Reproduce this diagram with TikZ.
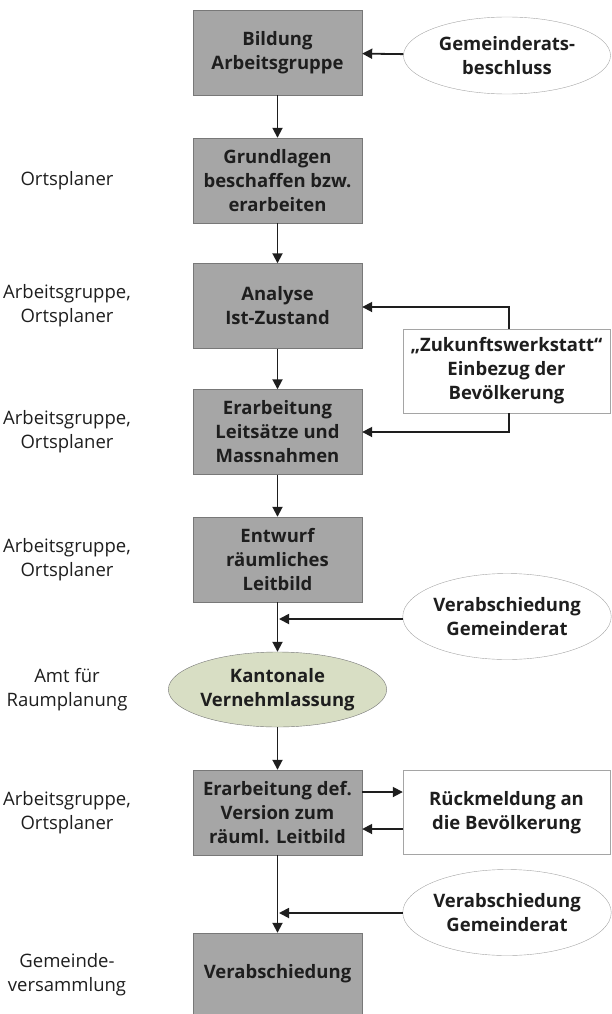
\documentclass[tikz,border=0pt]{standalone}
\usepackage{fontspec}
\setmainfont{Open Sans}
\usetikzlibrary{arrows.meta,shapes.geometric}
\definecolor{boxgray}{RGB}{166,166,166}
\definecolor{boxedge}{RGB}{120,120,120}
\definecolor{lightedge}{RGB}{165,165,165}
\definecolor{kantgreen}{RGB}{216,222,196}
\definecolor{ink}{RGB}{30,30,30}

\begin{document}
\begin{tikzpicture}
    [ x=1pt, y=-1pt, text=ink,
      txt/.style={font=\fontsize{18.5}{24}\selectfont, align=center, inner sep=0pt},
      stepbox/.style={txt, font=\fontsize{18.5}{24}\selectfont\bfseries, draw=boxedge, fill=boxgray,
                      minimum width=169pt, minimum height=85pt},
      extbox/.style={txt, font=\fontsize{18.5}{24}\selectfont\bfseries, draw=lightedge, fill=white,
                     minimum width=207pt, minimum height=84pt},
      extell/.style={txt, font=\fontsize{18.5}{24}\selectfont\bfseries, ellipse, draw=lightedge, fill=white,
                     minimum width=207pt, minimum height=86pt},
      kantell/.style={extell, draw=boxedge, fill=kantgreen, minimum width=169pt, minimum height=75pt},
      flow/.style={draw=ink, line width=1.8pt, -{Triangle[length=10pt,width=10pt]}},
    ]
    \useasboundingbox (0,0) rectangle (611,1014);

    % main column
    \node[stepbox] (bild)    at (277.5, 52.5)  {Bildung\\Arbeitsgruppe};
    \node[stepbox] (grund)   at (277.5, 180.5) {Grundlagen\\beschaffen bzw.\\erarbeiten};
    \node[stepbox] (analyse) at (277.5, 306)   {Analyse\\Ist-Zustand};
    \node[stepbox] (leits)   at (277.5, 432)   {Erarbeitung\\Leitsätze und\\Massnahmen};
    \node[stepbox] (entwurf) at (277.5, 559.5) {Entwurf\\räumliches\\Leitbild};
    \node[kantell] (kanton)  at (277.5, 689.5) {Kantonale\\Vernehmlassung};
    \node[stepbox] (defver)  at (277.5, 812.5) {Erarbeitung def.\\Version zum\\räuml. Leitbild};
    \node[stepbox, minimum height=81pt] (verab) at (277.5, 973.5) {Verabschiedung};

    % right column
    \node[extell, minimum height=77pt] (gbeschl) at (507, 55.5) {Gemeinderats-\\beschluss};
    \node[extbox] (zukunft) at (506.5, 371)   {„Zukunftswerkstatt“\\Einbezug der\\Bevölkerung};
    \node[extell] (vgr1)    at (507, 616.5)   {Verabschiedung\\Gemeinderat};
    \node[extbox] (rueck)   at (506.5, 812.5) {Rückmeldung an\\die Bevölkerung};
    \node[extell] (vgr2)    at (507, 912.5)   {Verabschiedung\\Gemeinderat};

    % left column
    \node[txt] (r2) at (67, 180.5) {Ortsplaner};
    \node[txt] (r3) at (67, 306)   {Arbeitsgruppe,\\Ortsplaner};
    \node[txt] (r4) at (67, 432)   {Arbeitsgruppe,\\Ortsplaner};
    \node[txt] (r5) at (67, 559.5) {Arbeitsgruppe,\\Ortsplaner};
    \node[txt] (r6) at (67, 689.5) {Amt für\\Raumplanung};
    \node[txt] (r7) at (67, 812.5) {Arbeitsgruppe,\\Ortsplaner};
    \node[txt] (r8) at (67, 975)   {Gemeinde-\\versammlung};

    \foreach \a / \b in {bild/grund, grund/analyse, analyse/leits, leits/entwurf,
                         entwurf/kanton, kanton/defver, defver/verab}
        \draw[flow] (\a) -- (\b);

    \draw[flow] (gbeschl) -- (bild);

    \coordinate (zin) at (509, 307);
    \coordinate (zout) at (509, 432);
    \draw[flow] (zukunft.north -| zin) |- (zin -| analyse.east);
    \draw[flow] (zukunft.south -| zout) |- (zout -| leits.east);

    \draw[flow] ([yshift=20.5pt]defver.east) -- ([yshift=20.5pt]rueck.west);
    \draw[flow] ([yshift=-16.5pt]rueck.west) -- ([yshift=-16.5pt]defver.east);

    \coordinate (j1) at (279, 619);
    \coordinate (j2) at (279, 913);
    \draw[flow] (vgr1.west |- j1) -- (j1);
    \draw[flow] (vgr2.west |- j2) -- (j2);
\end{tikzpicture}
\end{document}
